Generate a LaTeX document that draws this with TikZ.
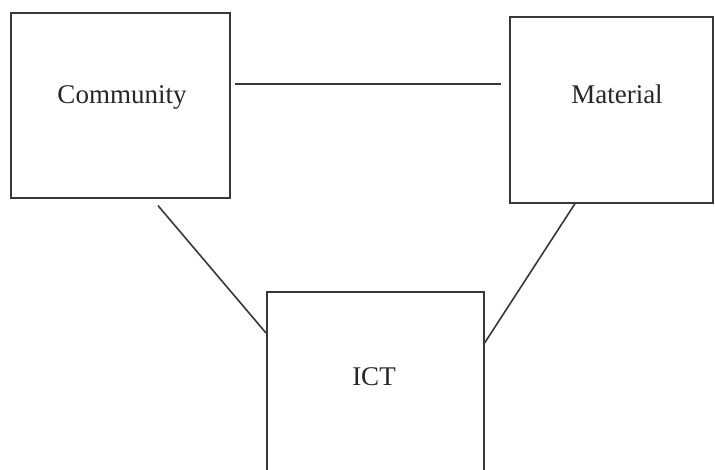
\documentclass[tikz,border=0pt]{standalone}
\usepackage{fontspec}
\setmainfont{Liberation Serif}
\begin{document}
\begin{tikzpicture}[x=1pt,y=-1pt,
  box/.style={draw=black!78,line width=1.6pt,anchor=north west,inner sep=0pt},
  lbl/.style={font=\fontsize{27}{30}\selectfont,text=black!85,inner sep=0pt},
  link/.style={draw=black!78,line width=1.6pt}]
\useasboundingbox[fill=white] (0,0) rectangle (715,470);
\node[box,minimum width=219pt,minimum height=185pt] (comm) at (10,12) {};
\node[box,minimum width=203pt,minimum height=186pt] (mat) at (509,16) {};
\node[box,minimum width=217pt,minimum height=200pt] (ict) at (266,291) {};
\node[lbl] (commtext) at (122,97) {Community};
\node[lbl] (mattext) at (617,94) {Material};
\node[lbl] (icttext) at (374,377) {ICT};
\coordinate (a1) at ([xshift=4pt]comm.east |- 0,84);
\coordinate (a2) at ([xshift=-8pt]mat.west |- 0,84);
\coordinate (b1) at ([yshift=-7pt]comm.south -| 158,0);
\coordinate (b2) at (ict.west |- 0,333);
\coordinate (c1) at (mat.south -| 575,0);
\coordinate (c2) at (ict.east |- 0,343);
\draw[link] (a1) -- (a2);
\draw[link] (b1) -- (b2);
\draw[link] (c1) -- (c2);
\end{tikzpicture}
\end{document}
